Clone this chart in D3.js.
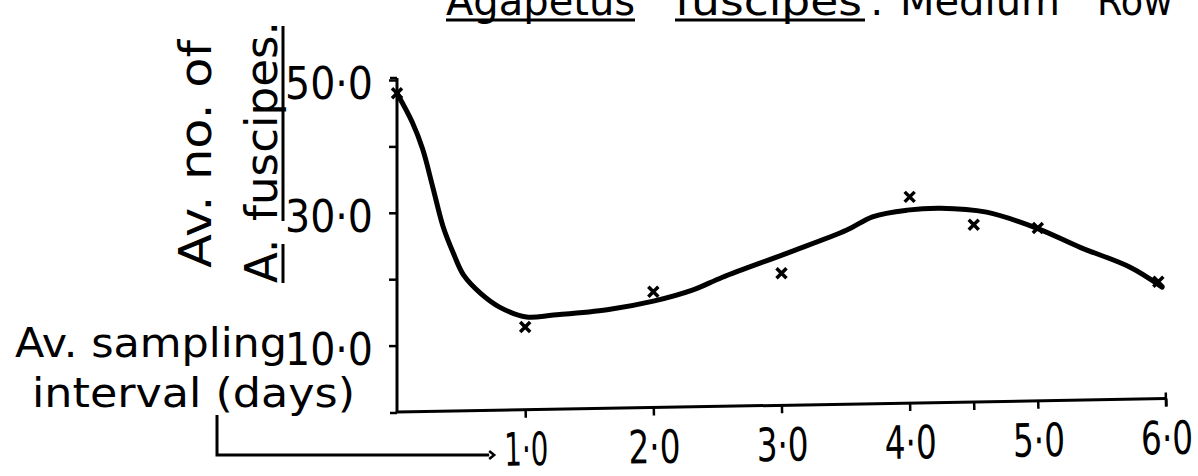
<!DOCTYPE html>
<html>
<head>
<meta charset="utf-8">
<script src="https://cdn.jsdelivr.net/npm/d3@7"></script>
<style>
  html, body { margin: 0; padding: 0; background: #fff; }
  svg { display: block; }
  text { font-family: "DejaVu Sans", sans-serif; fill: #000; }
</style>
</head>
<body>
<svg id="chart" width="1198" height="476"></svg>
<script>
// ---- data ----
const pointX = [0, 1.0, 2.0, 3.0, 4.0, 4.5, 5.0, 5.94];
const pointY = [48.0, 12.8, 18.1, 20.9, 32.4, 28.2, 27.7, 19.6];

const curveX = [0, 0.12, 0.2, 0.28, 0.36, 0.44, 0.52, 0.65, 0.80, 1.01, 1.22, 1.64, 2.0, 2.31, 2.54, 3.04, 3.51, 3.71, 3.98, 4.24, 4.60, 4.99, 5.33, 5.72, 5.97];
const curveY = [48.0, 43.6, 39.6, 33.8, 27.9, 23.9, 20.6, 17.9, 15.8, 14.3, 14.6, 15.4, 16.7, 18.4, 20.3, 23.9, 27.4, 29.4, 30.4, 30.7, 30.1, 27.7, 24.8, 21.8, 18.8];

const xTicks = [1, 2, 3, 4, 4.5, 5, 6];
const xTickLabels = ["1·0", "2·0", "3·0", "4·0", "", "5·0", "6·0"];
const yTicks = [10, 20, 30, 40, 50];
const yTickLabels = ["10·0", "", "30·0", "", "50·0"];

const titleWords = ["Agapetus", "fuscipes", ":", "Medium", "Row"];
const yTitle1 = "Av. no. of";
const yTitle2a = "A.";
const yTitle2b = "fuscipes.";
const xTitle1 = "Av. sampling";
const xTitle2 = "interval (days)";

// ---- layout ----
const svg = d3.select("#chart");
const x = d3.scaleLinear().domain([0, 6]).range([397, 1166]);
const y = d3.scaleLinear().domain([0, 50]).range([412, 80]);

// title (top clipped as in the scan)
const title = svg.append("g");
const tPos = [
  {x: 446, len: null}, {x: 675, len: 187}, {x: 870, len: null},
  {x: 900, len: null}, {x: 1097, len: 76}
];
titleWords.forEach((w, i) => {
  const t = title.append("text")
    .attr("x", tPos[i].x).attr("y", 15)
    .attr("font-size", 40)
    .text(w);
  if (tPos[i].len) t.attr("textLength", tPos[i].len).attr("lengthAdjust", "spacingAndGlyphs");
});
title.append("line").attr("x1", 446).attr("x2", 635).attr("y1", 20).attr("y2", 20)
  .attr("stroke", "#000").attr("stroke-width", 3);
title.append("line").attr("x1", 675).attr("x2", 865).attr("y1", 20).attr("y2", 20)
  .attr("stroke", "#000").attr("stroke-width", 3);

// y axis
const yAxis = d3.axisLeft(y)
  .tickValues(yTicks)
  .tickSize(8)
  .tickSizeOuter(0)
  .tickPadding(16)
  .tickFormat((d, i) => yTickLabels[i]);
const gy = svg.append("g").attr("transform", `translate(${x(0)},0)`).call(yAxis);
gy.select(".domain").attr("stroke", "#000").attr("stroke-width", 3)
  .attr("d", `M0,${y(50) - 2}V${y(0) + 1}`);
gy.selectAll(".tick line").attr("stroke", "#000").attr("stroke-width", 2.5);
gy.selectAll(".tick text")
  .attr("font-size", 45)
  .attr("font-family", "DejaVu Sans")
  .attr("fill", "#000")
  .attr("dy", "0.42em")
  .attr("textLength", 88)
  .attr("lengthAdjust", "spacingAndGlyphs");
gy.append("path").attr("d", `M-7,${y(50) - 2}H0`).attr("stroke", "#000").attr("stroke-width", 2.5);
gy.append("path").attr("d", `M-7,${y(0) + 1}H0`).attr("stroke", "#000").attr("stroke-width", 2.5);

// x axis (slightly tilted like the hand drawing)
const xAxis = d3.axisBottom(x)
  .tickValues(xTicks)
  .tickSize(8)
  .tickSizeOuter(0)
  .tickPadding(19)
  .tickFormat((d, i) => xTickLabels[i]);
const gx = svg.append("g")
  .attr("transform", `rotate(-1, ${x(0)}, ${y(0)}) translate(0,${y(0)})`)
  .call(xAxis);
gx.select(".domain").attr("stroke", "#000").attr("stroke-width", 3)
  .attr("d", `M${x(0)},0H${x(6)}`);
gx.selectAll(".tick line").attr("stroke", "#000").attr("stroke-width", 2.5);
gx.append("path").attr("d", `M${x(6)},-6V8`).attr("stroke", "#000").attr("stroke-width", 2.5);
gx.selectAll(".tick text")
  .attr("font-size", 46)
  .attr("font-family", "DejaVu Sans")
  .attr("fill", "#000")
  .attr("dy", "0.62em")
  .attr("textLength", d => d === 1 ? 44 : 52)
  .attr("lengthAdjust", "spacingAndGlyphs");

// curve
const line = d3.line()
  .x(d => x(d[0]))
  .y(d => y(d[1]))
  .curve(d3.curveCatmullRom.alpha(0.5));
svg.append("path")
  .datum(curveX.map((v, i) => [v, curveY[i]]))
  .attr("d", line)
  .attr("fill", "none")
  .attr("stroke", "#000")
  .attr("stroke-width", 5)
  .attr("stroke-linecap", "round")
  .attr("stroke-linejoin", "round");

// point markers (x crosses)
const s = 5;
svg.append("g").selectAll("path")
  .data(pointX.map((v, i) => [v, pointY[i]]))
  .join("path")
  .attr("d", d => {
    const cx = x(d[0]), cy = y(d[1]);
    return `M${cx - s},${cy - s}L${cx + s},${cy + s}M${cx - s},${cy + s}L${cx + s},${cy - s}`;
  })
  .attr("stroke", "#000")
  .attr("stroke-width", 3.5);

// y title (rotated)
svg.append("text")
  .attr("transform", "translate(211,268) rotate(-90)")
  .attr("font-size", 45)
  .attr("textLength", 228)
  .attr("lengthAdjust", "spacingAndGlyphs")
  .text(yTitle1);
svg.append("text")
  .attr("transform", "translate(277,283) rotate(-90)")
  .attr("font-size", 45)
  .text(yTitle2a);
svg.append("text")
  .attr("transform", "translate(277,221) rotate(-90)")
  .attr("font-size", 45)
  .attr("textLength", 200)
  .attr("lengthAdjust", "spacingAndGlyphs")
  .text(yTitle2b);
svg.append("path").attr("d", "M283,283V244M283,221V26")
  .attr("stroke", "#000").attr("stroke-width", 3);

// x title
svg.append("text")
  .attr("x", 15).attr("y", 357)
  .attr("font-size", 40)
  .attr("textLength", 272)
  .attr("lengthAdjust", "spacingAndGlyphs")
  .text(xTitle1);
svg.append("text")
  .attr("x", 32).attr("y", 407)
  .attr("font-size", 40)
  .attr("textLength", 323)
  .attr("lengthAdjust", "spacingAndGlyphs")
  .text(xTitle2);

// bracket arrow pointing to the first x label
svg.append("path")
  .attr("d", `M217,415V455H${x(1) - 36}`)
  .attr("fill", "none").attr("stroke", "#000").attr("stroke-width", 3);
svg.append("path")
  .attr("d", `M${x(1) - 36},451L${x(1) - 31},455L${x(1) - 36},459`)
  .attr("fill", "none").attr("stroke", "#000").attr("stroke-width", 2.5);
</script>
</body>
</html>
